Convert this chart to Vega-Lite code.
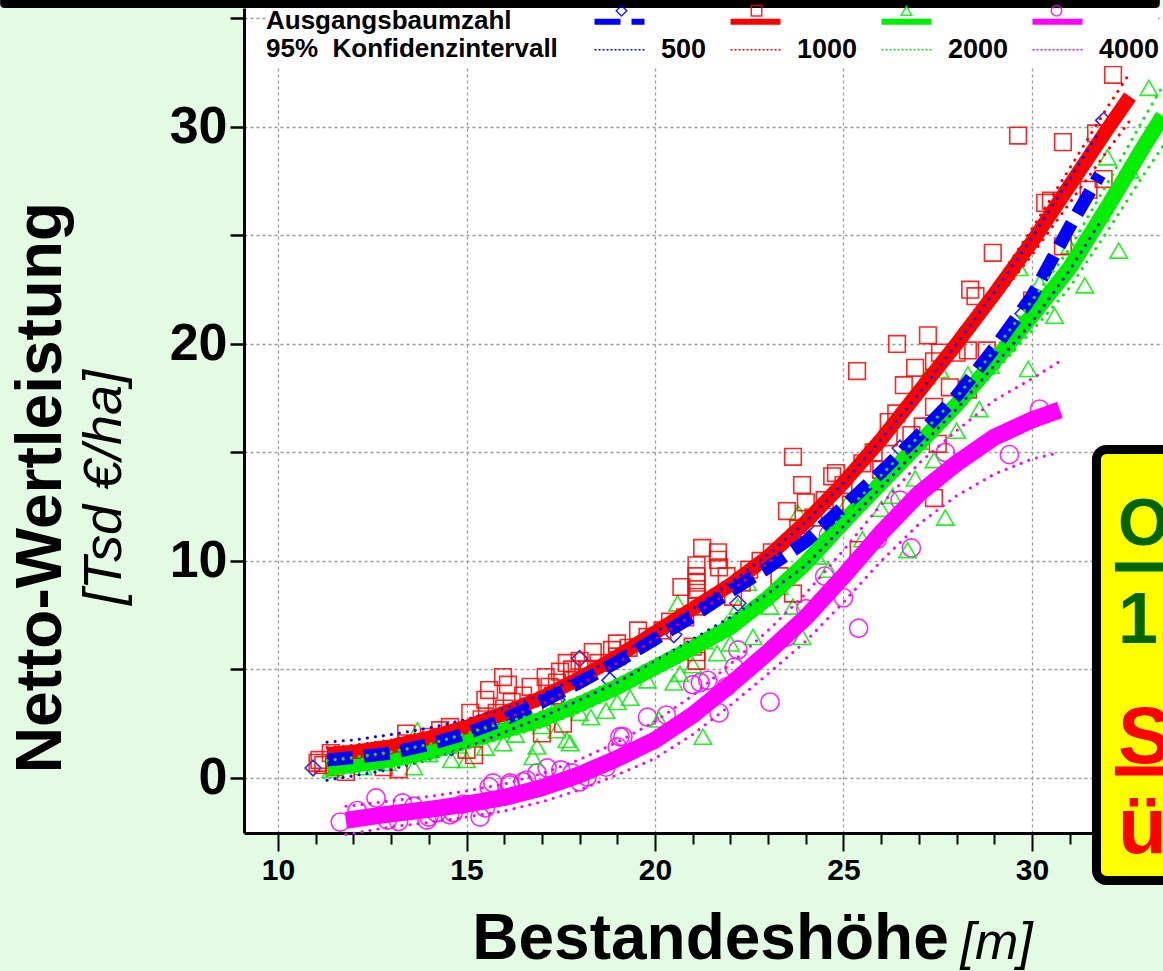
{
  "$schema": "https://vega.github.io/schema/vega-lite/v6.json",
  "width": 919,
  "height": 825,
  "autosize": {"type": "none"},
  "padding": {"left": 244, "top": 8, "right": 0, "bottom": 138},
  "background": "#e3fbe3",
  "config": {
    "font": "Liberation Sans",
    "view": {"fill": "white", "stroke": null},
    "axis": {"labelFont": "Liberation Sans", "titleFont": "Liberation Sans"},
    "legend": {"labelFont": "Liberation Sans", "titleFont": "Liberation Sans", "titleLimit": 600}
  },
  "title": {
    "text": "Netto-Wertleistung",
    "subtitle": "[Tsd €/ha]",
    "orient": "left",
    "anchor": "middle",
    "frame": "group",
    "offset": -132,
    "dx": -67,
    "font": "Liberation Sans",
    "fontSize": 64,
    "fontWeight": "bold",
    "color": "black",
    "subtitleFont": "Liberation Sans",
    "subtitleFontSize": 54,
    "subtitleFontStyle": "italic",
    "subtitleFontWeight": "normal",
    "subtitleColor": "black",
    "subtitlePadding": 4
  },
  "datasets": {
    "pts": [
      {"n": 4000, "h": 11.65, "v": -2.03}, {"n": 4000, "h": 12.1, "v": -1.5}, {"n": 4000, "h": 12.6, "v": -0.92}, {"n": 4000, "h": 12.9, "v": -1.94},
      {"n": 4000, "h": 13.2, "v": -2.0}, {"n": 4000, "h": 13.3, "v": -1.15}, {"n": 4000, "h": 13.6, "v": -1.3}, {"n": 4000, "h": 13.95, "v": -1.94},
      {"n": 4000, "h": 14.0, "v": -1.8}, {"n": 4000, "h": 14.2, "v": -1.6}, {"n": 4000, "h": 14.56, "v": -1.7}, {"n": 4000, "h": 14.65, "v": -1.6},
      {"n": 4000, "h": 14.9, "v": -1.2}, {"n": 4000, "h": 15.36, "v": -1.8}, {"n": 4000, "h": 15.5, "v": -1.38}, {"n": 4000, "h": 15.6, "v": -0.41},
      {"n": 4000, "h": 15.7, "v": -0.23}, {"n": 4000, "h": 16.15, "v": -0.23}, {"n": 4000, "h": 16.15, "v": -0.32}, {"n": 4000, "h": 16.5, "v": -0.18},
      {"n": 4000, "h": 16.6, "v": -0.1}, {"n": 4000, "h": 16.87, "v": 0.23}, {"n": 4000, "h": 17.14, "v": 0.46}, {"n": 4000, "h": 17.5, "v": 0.37},
      {"n": 4000, "h": 17.8, "v": 0.23}, {"n": 4000, "h": 18.0, "v": -0.18}, {"n": 4000, "h": 18.2, "v": 0.05}, {"n": 4000, "h": 18.7, "v": 0.5},
      {"n": 4000, "h": 19.0, "v": 1.43}, {"n": 4000, "h": 19.07, "v": 1.9}, {"n": 4000, "h": 19.15, "v": 1.9}, {"n": 4000, "h": 19.8, "v": 2.8},
      {"n": 4000, "h": 20.3, "v": 2.9}, {"n": 4000, "h": 21.0, "v": 4.3}, {"n": 4000, "h": 21.2, "v": 4.4}, {"n": 4000, "h": 21.4, "v": 4.5},
      {"n": 4000, "h": 21.7, "v": 3.0}, {"n": 4000, "h": 21.9, "v": 4.2}, {"n": 4000, "h": 22.1, "v": 5.1}, {"n": 4000, "h": 22.2, "v": 5.9},
      {"n": 4000, "h": 23.05, "v": 3.5}, {"n": 4000, "h": 23.5, "v": 6.5}, {"n": 4000, "h": 24.0, "v": 7.8}, {"n": 4000, "h": 24.5, "v": 9.3},
      {"n": 4000, "h": 24.6, "v": 11.2}, {"n": 4000, "h": 25.0, "v": 8.3}, {"n": 4000, "h": 25.4, "v": 6.9}, {"n": 4000, "h": 25.9, "v": 11.0},
      {"n": 4000, "h": 26.5, "v": 12.8}, {"n": 4000, "h": 26.8, "v": 10.6}, {"n": 4000, "h": 27.7, "v": 15.0}, {"n": 4000, "h": 27.7, "v": 16.8},
      {"n": 4000, "h": 29.4, "v": 14.9}, {"n": 4000, "h": 30.2, "v": 17.0},
      {"n": 2000, "h": 11.4, "v": 0.37}, {"n": 2000, "h": 11.8, "v": 0.6}, {"n": 2000, "h": 12.25, "v": 0.5}, {"n": 2000, "h": 12.5, "v": 0.9},
      {"n": 2000, "h": 12.9, "v": 0.7}, {"n": 2000, "h": 13.2, "v": 1.0}, {"n": 2000, "h": 13.6, "v": 0.5}, {"n": 2000, "h": 13.7, "v": 2.2},
      {"n": 2000, "h": 14.0, "v": 1.1}, {"n": 2000, "h": 14.6, "v": 0.83}, {"n": 2000, "h": 14.8, "v": 1.5}, {"n": 2000, "h": 15.0, "v": 0.83},
      {"n": 2000, "h": 15.5, "v": 1.4}, {"n": 2000, "h": 15.97, "v": 1.6}, {"n": 2000, "h": 16.3, "v": 2.0}, {"n": 2000, "h": 16.76, "v": 0.97},
      {"n": 2000, "h": 16.87, "v": 1.45}, {"n": 2000, "h": 17.0, "v": 2.4}, {"n": 2000, "h": 17.3, "v": 3.1}, {"n": 2000, "h": 17.4, "v": 2.2},
      {"n": 2000, "h": 17.66, "v": 1.75}, {"n": 2000, "h": 17.75, "v": 1.6}, {"n": 2000, "h": 18.0, "v": 3.0}, {"n": 2000, "h": 18.3, "v": 2.8},
      {"n": 2000, "h": 18.7, "v": 3.1}, {"n": 2000, "h": 19.0, "v": 3.5}, {"n": 2000, "h": 19.34, "v": 3.7}, {"n": 2000, "h": 19.8, "v": 4.5},
      {"n": 2000, "h": 20.1, "v": 2.7}, {"n": 2000, "h": 20.5, "v": 4.4}, {"n": 2000, "h": 20.6, "v": 8.05}, {"n": 2000, "h": 20.66, "v": 4.8},
      {"n": 2000, "h": 21.0, "v": 5.2}, {"n": 2000, "h": 21.27, "v": 1.9}, {"n": 2000, "h": 21.3, "v": 6.3}, {"n": 2000, "h": 21.65, "v": 5.75},
      {"n": 2000, "h": 21.9, "v": 7.1}, {"n": 2000, "h": 22.0, "v": 6.2}, {"n": 2000, "h": 22.2, "v": 7.9}, {"n": 2000, "h": 22.45, "v": 9.0},
      {"n": 2000, "h": 22.6, "v": 6.5}, {"n": 2000, "h": 23.05, "v": 7.9}, {"n": 2000, "h": 23.3, "v": 8.8}, {"n": 2000, "h": 23.66, "v": 7.9},
      {"n": 2000, "h": 23.8, "v": 12.2}, {"n": 2000, "h": 23.9, "v": 6.5}, {"n": 2000, "h": 24.3, "v": 10.2}, {"n": 2000, "h": 24.6, "v": 9.6},
      {"n": 2000, "h": 25.1, "v": 12.7}, {"n": 2000, "h": 25.5, "v": 11.0}, {"n": 2000, "h": 26.0, "v": 12.4}, {"n": 2000, "h": 26.3, "v": 13.0},
      {"n": 2000, "h": 26.7, "v": 10.5}, {"n": 2000, "h": 26.9, "v": 13.8}, {"n": 2000, "h": 27.0, "v": 15.5}, {"n": 2000, "h": 27.2, "v": 18.5},
      {"n": 2000, "h": 27.4, "v": 14.65}, {"n": 2000, "h": 27.56, "v": 18.8}, {"n": 2000, "h": 27.7, "v": 12.0}, {"n": 2000, "h": 28.0, "v": 16.0},
      {"n": 2000, "h": 28.3, "v": 18.6}, {"n": 2000, "h": 28.6, "v": 17.0}, {"n": 2000, "h": 28.9, "v": 19.0}, {"n": 2000, "h": 29.3, "v": 20.0},
      {"n": 2000, "h": 29.66, "v": 23.5}, {"n": 2000, "h": 29.9, "v": 18.85}, {"n": 2000, "h": 30.2, "v": 22.8}, {"n": 2000, "h": 30.6, "v": 21.3},
      {"n": 2000, "h": 31.0, "v": 24.5}, {"n": 2000, "h": 31.4, "v": 22.7}, {"n": 2000, "h": 31.8, "v": 26.0}, {"n": 2000, "h": 32.0, "v": 28.6},
      {"n": 2000, "h": 32.3, "v": 24.3}, {"n": 2000, "h": 32.6, "v": 28.0}, {"n": 2000, "h": 33.1, "v": 31.8},
      {"n": 500, "h": 10.93, "v": 0.46}, {"n": 500, "h": 12.7, "v": 0.7}, {"n": 500, "h": 14.6, "v": 1.4}, {"n": 500, "h": 16.0, "v": 2.4},
      {"n": 500, "h": 17.4, "v": 3.6}, {"n": 500, "h": 18.0, "v": 5.5}, {"n": 500, "h": 18.8, "v": 4.5}, {"n": 500, "h": 20.5, "v": 6.6},
      {"n": 500, "h": 22.2, "v": 8.05}, {"n": 500, "h": 24.0, "v": 11.6}, {"n": 500, "h": 26.5, "v": 15.2}, {"n": 500, "h": 28.3, "v": 20.7},
      {"n": 500, "h": 29.76, "v": 21.4}, {"n": 500, "h": 31.9, "v": 30.3},
      {"n": 1000, "h": 11.1, "v": 0.83}, {"n": 1000, "h": 11.05, "v": 0.7}, {"n": 1000, "h": 11.4, "v": 1.15}, {"n": 1000, "h": 11.2, "v": 0.6},
      {"n": 1000, "h": 11.5, "v": 0.5}, {"n": 1000, "h": 11.8, "v": 0.28}, {"n": 1000, "h": 12.0, "v": 0.8}, {"n": 1000, "h": 12.3, "v": 1.0},
      {"n": 1000, "h": 12.6, "v": 0.9}, {"n": 1000, "h": 12.8, "v": 0.5}, {"n": 1000, "h": 13.0, "v": 1.2}, {"n": 1000, "h": 13.2, "v": 0.4},
      {"n": 1000, "h": 13.4, "v": 2.05}, {"n": 1000, "h": 13.4, "v": 1.6}, {"n": 1000, "h": 13.8, "v": 1.4}, {"n": 1000, "h": 14.0, "v": 1.9},
      {"n": 1000, "h": 14.3, "v": 2.2}, {"n": 1000, "h": 14.56, "v": 2.35}, {"n": 1000, "h": 14.8, "v": 2.0}, {"n": 1000, "h": 15.0, "v": 1.3},
      {"n": 1000, "h": 15.1, "v": 3.0}, {"n": 1000, "h": 15.2, "v": 1.05}, {"n": 1000, "h": 15.3, "v": 2.3}, {"n": 1000, "h": 15.4, "v": 2.7},
      {"n": 1000, "h": 15.5, "v": 3.6}, {"n": 1000, "h": 15.6, "v": 4.05}, {"n": 1000, "h": 15.8, "v": 3.0}, {"n": 1000, "h": 15.97, "v": 4.65},
      {"n": 1000, "h": 16.0, "v": 3.2}, {"n": 1000, "h": 16.1, "v": 4.3}, {"n": 1000, "h": 16.2, "v": 3.5}, {"n": 1000, "h": 16.4, "v": 3.0},
      {"n": 1000, "h": 16.5, "v": 3.8}, {"n": 1000, "h": 16.7, "v": 4.2}, {"n": 1000, "h": 16.8, "v": 3.3}, {"n": 1000, "h": 17.0, "v": 2.05},
      {"n": 1000, "h": 17.1, "v": 4.65}, {"n": 1000, "h": 17.2, "v": 4.2}, {"n": 1000, "h": 17.3, "v": 3.8}, {"n": 1000, "h": 17.4, "v": 4.4},
      {"n": 1000, "h": 17.48, "v": 4.9}, {"n": 1000, "h": 17.56, "v": 2.5}, {"n": 1000, "h": 17.66, "v": 5.3}, {"n": 1000, "h": 17.8, "v": 5.0},
      {"n": 1000, "h": 17.8, "v": 4.5}, {"n": 1000, "h": 18.0, "v": 5.4}, {"n": 1000, "h": 18.2, "v": 5.0}, {"n": 1000, "h": 18.35, "v": 5.8},
      {"n": 1000, "h": 18.5, "v": 5.3}, {"n": 1000, "h": 18.86, "v": 5.9}, {"n": 1000, "h": 18.99, "v": 6.2}, {"n": 1000, "h": 19.0, "v": 5.6},
      {"n": 1000, "h": 19.3, "v": 6.0}, {"n": 1000, "h": 19.55, "v": 6.8}, {"n": 1000, "h": 19.8, "v": 6.5}, {"n": 1000, "h": 20.2, "v": 6.8},
      {"n": 1000, "h": 20.4, "v": 7.2}, {"n": 1000, "h": 20.7, "v": 8.8}, {"n": 1000, "h": 20.8, "v": 7.4}, {"n": 1000, "h": 21.0, "v": 6.05},
      {"n": 1000, "h": 21.1, "v": 5.4}, {"n": 1000, "h": 21.1, "v": 5.8}, {"n": 1000, "h": 21.1, "v": 7.9}, {"n": 1000, "h": 21.1, "v": 8.35},
      {"n": 1000, "h": 21.1, "v": 8.7}, {"n": 1000, "h": 21.1, "v": 9.0}, {"n": 1000, "h": 21.1, "v": 9.3}, {"n": 1000, "h": 21.1, "v": 9.8},
      {"n": 1000, "h": 21.25, "v": 10.6}, {"n": 1000, "h": 21.67, "v": 10.4}, {"n": 1000, "h": 21.67, "v": 10.05}, {"n": 1000, "h": 21.7, "v": 9.7},
      {"n": 1000, "h": 21.9, "v": 9.3}, {"n": 1000, "h": 22.07, "v": 8.35}, {"n": 1000, "h": 22.3, "v": 9.0}, {"n": 1000, "h": 22.5, "v": 9.6},
      {"n": 1000, "h": 22.8, "v": 10.0}, {"n": 1000, "h": 23.1, "v": 10.4}, {"n": 1000, "h": 23.3, "v": 9.3}, {"n": 1000, "h": 23.5, "v": 12.3},
      {"n": 1000, "h": 23.66, "v": 8.5}, {"n": 1000, "h": 23.66, "v": 14.8}, {"n": 1000, "h": 23.8, "v": 11.5}, {"n": 1000, "h": 23.9, "v": 13.5},
      {"n": 1000, "h": 24.0, "v": 12.7}, {"n": 1000, "h": 24.2, "v": 12.0}, {"n": 1000, "h": 24.5, "v": 12.8}, {"n": 1000, "h": 24.7, "v": 13.9},
      {"n": 1000, "h": 24.8, "v": 14.05}, {"n": 1000, "h": 25.0, "v": 13.5}, {"n": 1000, "h": 25.2, "v": 12.6}, {"n": 1000, "h": 25.36, "v": 18.75},
      {"n": 1000, "h": 25.4, "v": 10.5}, {"n": 1000, "h": 25.5, "v": 14.5}, {"n": 1000, "h": 25.8, "v": 15.0}, {"n": 1000, "h": 26.0, "v": 14.2},
      {"n": 1000, "h": 26.2, "v": 16.4}, {"n": 1000, "h": 26.2, "v": 15.7}, {"n": 1000, "h": 26.4, "v": 16.8}, {"n": 1000, "h": 26.42, "v": 20.0},
      {"n": 1000, "h": 26.6, "v": 18.1}, {"n": 1000, "h": 26.8, "v": 15.8}, {"n": 1000, "h": 26.9, "v": 18.9}, {"n": 1000, "h": 27.1, "v": 16.2},
      {"n": 1000, "h": 27.24, "v": 20.4}, {"n": 1000, "h": 27.4, "v": 19.2}, {"n": 1000, "h": 27.4, "v": 17.1}, {"n": 1000, "h": 27.4, "v": 12.9},
      {"n": 1000, "h": 27.5, "v": 15.4}, {"n": 1000, "h": 27.56, "v": 19.6}, {"n": 1000, "h": 27.82, "v": 18.0}, {"n": 1000, "h": 28.0, "v": 19.6},
      {"n": 1000, "h": 28.3, "v": 17.9}, {"n": 1000, "h": 28.3, "v": 19.7}, {"n": 1000, "h": 28.36, "v": 22.5}, {"n": 1000, "h": 28.5, "v": 22.2},
      {"n": 1000, "h": 28.8, "v": 19.7}, {"n": 1000, "h": 28.96, "v": 24.2}, {"n": 1000, "h": 29.63, "v": 29.6}, {"n": 1000, "h": 30.0, "v": 22.0},
      {"n": 1000, "h": 30.35, "v": 26.5}, {"n": 1000, "h": 30.5, "v": 26.6}, {"n": 1000, "h": 30.82, "v": 24.5}, {"n": 1000, "h": 30.82, "v": 29.3},
      {"n": 1000, "h": 31.5, "v": 27.1}, {"n": 1000, "h": 31.7, "v": 29.7}, {"n": 1000, "h": 31.9, "v": 27.6}, {"n": 1000, "h": 32.15, "v": 32.4}
    ],
    "fit": [
      {"n": 4000, "h": 11.8, "v": -1.95}, {"n": 4000, "h": 12, "v": -1.9}, {"n": 4000, "h": 13, "v": -1.65}, {"n": 4000, "h": 14, "v": -1.45},
      {"n": 4000, "h": 15, "v": -1.2}, {"n": 4000, "h": 16, "v": -0.9}, {"n": 4000, "h": 17, "v": -0.45}, {"n": 4000, "h": 18, "v": 0.15},
      {"n": 4000, "h": 19, "v": 0.9}, {"n": 4000, "h": 20, "v": 1.75}, {"n": 4000, "h": 21, "v": 2.9}, {"n": 4000, "h": 22, "v": 4.3},
      {"n": 4000, "h": 23, "v": 5.8}, {"n": 4000, "h": 24, "v": 7.4}, {"n": 4000, "h": 25, "v": 9.3}, {"n": 4000, "h": 26, "v": 11.3},
      {"n": 4000, "h": 27, "v": 13.1}, {"n": 4000, "h": 28, "v": 14.5}, {"n": 4000, "h": 29, "v": 15.7}, {"n": 4000, "h": 30, "v": 16.5},
      {"n": 4000, "h": 30.74, "v": 16.96},
      {"n": 2000, "h": 11.3, "v": 0.45}, {"n": 2000, "h": 12, "v": 0.6}, {"n": 2000, "h": 13, "v": 0.85}, {"n": 2000, "h": 14, "v": 1.2},
      {"n": 2000, "h": 15, "v": 1.7}, {"n": 2000, "h": 16, "v": 2.2}, {"n": 2000, "h": 17, "v": 2.7}, {"n": 2000, "h": 18, "v": 3.4},
      {"n": 2000, "h": 19, "v": 4.2}, {"n": 2000, "h": 20, "v": 5.1}, {"n": 2000, "h": 21, "v": 6.0}, {"n": 2000, "h": 22, "v": 6.95},
      {"n": 2000, "h": 23, "v": 8.3}, {"n": 2000, "h": 24, "v": 9.9}, {"n": 2000, "h": 25, "v": 11.8}, {"n": 2000, "h": 26, "v": 13.6},
      {"n": 2000, "h": 27, "v": 15.4}, {"n": 2000, "h": 28, "v": 17.2}, {"n": 2000, "h": 29, "v": 19.2}, {"n": 2000, "h": 30, "v": 21.3},
      {"n": 2000, "h": 31, "v": 23.5}, {"n": 2000, "h": 32, "v": 26.3}, {"n": 2000, "h": 33, "v": 29.2}, {"n": 2000, "h": 33.47, "v": 30.5},
      {"n": 1000, "h": 11.3, "v": 1.1}, {"n": 1000, "h": 12, "v": 1.2}, {"n": 1000, "h": 13, "v": 1.45}, {"n": 1000, "h": 14, "v": 1.85},
      {"n": 1000, "h": 15, "v": 2.35}, {"n": 1000, "h": 16, "v": 3.0}, {"n": 1000, "h": 17, "v": 3.7}, {"n": 1000, "h": 18, "v": 4.6},
      {"n": 1000, "h": 19, "v": 5.6}, {"n": 1000, "h": 20, "v": 6.7}, {"n": 1000, "h": 21, "v": 7.8}, {"n": 1000, "h": 22, "v": 8.9},
      {"n": 1000, "h": 23, "v": 10.2}, {"n": 1000, "h": 24, "v": 11.8}, {"n": 1000, "h": 25, "v": 13.6}, {"n": 1000, "h": 26, "v": 15.6},
      {"n": 1000, "h": 27, "v": 17.8}, {"n": 1000, "h": 28, "v": 20.0}, {"n": 1000, "h": 29, "v": 22.3}, {"n": 1000, "h": 30, "v": 24.7},
      {"n": 1000, "h": 31, "v": 27.3}, {"n": 1000, "h": 32, "v": 29.9}, {"n": 1000, "h": 32.6, "v": 31.4},
      {"n": 500, "h": 11.3, "v": 0.83}, {"n": 500, "h": 12, "v": 0.95}, {"n": 500, "h": 13, "v": 1.15}, {"n": 500, "h": 14, "v": 1.55},
      {"n": 500, "h": 15, "v": 2.05}, {"n": 500, "h": 16, "v": 2.7}, {"n": 500, "h": 17, "v": 3.5}, {"n": 500, "h": 18, "v": 4.4},
      {"n": 500, "h": 19, "v": 5.35}, {"n": 500, "h": 20, "v": 6.4}, {"n": 500, "h": 21, "v": 7.45}, {"n": 500, "h": 22, "v": 8.6},
      {"n": 500, "h": 23, "v": 9.7}, {"n": 500, "h": 24, "v": 10.9}, {"n": 500, "h": 25, "v": 12.5}, {"n": 500, "h": 26, "v": 14.1},
      {"n": 500, "h": 27, "v": 15.8}, {"n": 500, "h": 28, "v": 17.6}, {"n": 500, "h": 29, "v": 19.8}, {"n": 500, "h": 30, "v": 22.2},
      {"n": 500, "h": 31, "v": 25.4}, {"n": 500, "h": 31.8, "v": 27.8}
    ],
    "ci": [
      {"n": 500, "h": 11.3, "lo": -0.1, "hi": 1.65}, {"n": 500, "h": 12, "lo": 0.1, "hi": 1.75}, {"n": 500, "h": 13, "lo": 0.4, "hi": 2.0},
      {"n": 500, "h": 14, "lo": 0.85, "hi": 2.3}, {"n": 500, "h": 15, "lo": 1.4, "hi": 2.7}, {"n": 500, "h": 16, "lo": 2.1, "hi": 3.2},
      {"n": 500, "h": 17, "lo": 2.8, "hi": 3.85}, {"n": 500, "h": 18, "lo": 3.6, "hi": 4.7}, {"n": 500, "h": 19, "lo": 4.4, "hi": 5.6},
      {"n": 500, "h": 20, "lo": 5.4, "hi": 6.7}, {"n": 500, "h": 21, "lo": 6.4, "hi": 7.8}, {"n": 500, "h": 22, "lo": 7.4, "hi": 9.0},
      {"n": 500, "h": 23, "lo": 8.5, "hi": 10.3}, {"n": 500, "h": 24, "lo": 9.8, "hi": 11.8}, {"n": 500, "h": 25, "lo": 11.6, "hi": 13.6},
      {"n": 500, "h": 26, "lo": 13.4, "hi": 15.6}, {"n": 500, "h": 27, "lo": 15.2, "hi": 17.7}, {"n": 500, "h": 28, "lo": 17.0, "hi": 20.0},
      {"n": 500, "h": 29, "lo": 19.0, "hi": 22.4}, {"n": 500, "h": 30, "lo": 21.0, "hi": 24.9}, {"n": 500, "h": 31, "lo": 23.4, "hi": 27.6},
      {"n": 500, "h": 31.8, "lo": 25.6, "hi": 29.8},
      {"n": 1000, "h": 11.3, "lo": 0.8, "hi": 1.4}, {"n": 1000, "h": 12, "lo": 0.9, "hi": 1.5}, {"n": 1000, "h": 13, "lo": 1.15, "hi": 1.75},
      {"n": 1000, "h": 14, "lo": 1.55, "hi": 2.15}, {"n": 1000, "h": 15, "lo": 2.05, "hi": 2.65}, {"n": 1000, "h": 16, "lo": 2.7, "hi": 3.3},
      {"n": 1000, "h": 17, "lo": 3.4, "hi": 4.0}, {"n": 1000, "h": 18, "lo": 4.3, "hi": 4.9}, {"n": 1000, "h": 19, "lo": 5.3, "hi": 5.9},
      {"n": 1000, "h": 20, "lo": 6.4, "hi": 7.0}, {"n": 1000, "h": 21, "lo": 7.5, "hi": 8.1}, {"n": 1000, "h": 22, "lo": 8.6, "hi": 9.2},
      {"n": 1000, "h": 23, "lo": 9.9, "hi": 10.5}, {"n": 1000, "h": 24, "lo": 11.5, "hi": 12.1}, {"n": 1000, "h": 25, "lo": 13.3, "hi": 13.9},
      {"n": 1000, "h": 26, "lo": 15.3, "hi": 15.9}, {"n": 1000, "h": 27, "lo": 17.5, "hi": 18.1}, {"n": 1000, "h": 28, "lo": 19.7, "hi": 20.3},
      {"n": 1000, "h": 29, "lo": 21.9, "hi": 22.7}, {"n": 1000, "h": 30, "lo": 24.1, "hi": 25.3}, {"n": 1000, "h": 31, "lo": 26.5, "hi": 28.1},
      {"n": 1000, "h": 32, "lo": 28.9, "hi": 30.9}, {"n": 1000, "h": 32.6, "lo": 30.3, "hi": 32.5},
      {"n": 2000, "h": 11.3, "lo": 0.1, "hi": 0.8}, {"n": 2000, "h": 12, "lo": 0.25, "hi": 0.95}, {"n": 2000, "h": 13, "lo": 0.5, "hi": 1.2},
      {"n": 2000, "h": 14, "lo": 0.85, "hi": 1.55}, {"n": 2000, "h": 15, "lo": 1.35, "hi": 2.05}, {"n": 2000, "h": 16, "lo": 1.85, "hi": 2.55},
      {"n": 2000, "h": 17, "lo": 2.35, "hi": 3.05}, {"n": 2000, "h": 18, "lo": 3.05, "hi": 3.75}, {"n": 2000, "h": 19, "lo": 3.85, "hi": 4.55},
      {"n": 2000, "h": 20, "lo": 4.75, "hi": 5.45}, {"n": 2000, "h": 21, "lo": 5.65, "hi": 6.35}, {"n": 2000, "h": 22, "lo": 6.6, "hi": 7.3},
      {"n": 2000, "h": 23, "lo": 7.95, "hi": 8.65}, {"n": 2000, "h": 24, "lo": 9.55, "hi": 10.25}, {"n": 2000, "h": 25, "lo": 11.45, "hi": 12.15},
      {"n": 2000, "h": 26, "lo": 13.25, "hi": 13.95}, {"n": 2000, "h": 27, "lo": 15.05, "hi": 15.75}, {"n": 2000, "h": 28, "lo": 16.85, "hi": 17.55},
      {"n": 2000, "h": 29, "lo": 18.7, "hi": 19.7}, {"n": 2000, "h": 30, "lo": 20.6, "hi": 22.0}, {"n": 2000, "h": 31, "lo": 22.6, "hi": 24.4},
      {"n": 2000, "h": 32, "lo": 25.2, "hi": 27.4}, {"n": 2000, "h": 33, "lo": 27.9, "hi": 30.5}, {"n": 2000, "h": 33.47, "lo": 29.1, "hi": 31.9},
      {"n": 4000, "h": 11.8, "lo": -2.6, "hi": -1.3}, {"n": 4000, "h": 12, "lo": -2.55, "hi": -1.27}, {"n": 4000, "h": 13, "lo": -2.25, "hi": -1.05},
      {"n": 4000, "h": 14, "lo": -2.05, "hi": -0.85}, {"n": 4000, "h": 15, "lo": -1.8, "hi": -0.6}, {"n": 4000, "h": 16, "lo": -1.52, "hi": -0.28},
      {"n": 4000, "h": 17, "lo": -1.1, "hi": 0.2}, {"n": 4000, "h": 18, "lo": -0.55, "hi": 0.85}, {"n": 4000, "h": 19, "lo": 0.15, "hi": 1.65},
      {"n": 4000, "h": 20, "lo": 0.9, "hi": 2.6}, {"n": 4000, "h": 21, "lo": 2.0, "hi": 3.8}, {"n": 4000, "h": 22, "lo": 3.35, "hi": 5.25},
      {"n": 4000, "h": 23, "lo": 4.8, "hi": 6.8}, {"n": 4000, "h": 24, "lo": 6.3, "hi": 8.5}, {"n": 4000, "h": 25, "lo": 8.1, "hi": 10.5},
      {"n": 4000, "h": 26, "lo": 10.0, "hi": 12.6}, {"n": 4000, "h": 27, "lo": 11.7, "hi": 14.5}, {"n": 4000, "h": 28, "lo": 13.0, "hi": 16.0},
      {"n": 4000, "h": 29, "lo": 14.0, "hi": 17.4}, {"n": 4000, "h": 30, "lo": 14.7, "hi": 18.4}, {"n": 4000, "h": 30.74, "lo": 15.0, "hi": 19.2}
    ]
  },
  "layer": [
    {
      "data": {"values": [{}]},
      "mark": {"type": "rect", "color": "black", "cornerRadiusBottomLeft": 8, "cornerRadiusBottomRight": 8},
      "encoding": {
        "x": {"datum": 2.63, "type": "quantitative", "axis": null},
        "x2": {"datum": 33.39},
        "y": {"datum": 35.86, "type": "quantitative"},
        "y2": {"datum": 35.48}
      }
    },
    {
      "data": {"name": "pts"},
      "mark": {"type": "point", "filled": false, "strokeWidth": 1.6, "opacity": 0.85},
      "encoding": {
        "x": {
          "field": "h", "type": "quantitative",
          "scale": {"domain": [9.098, 33.475], "nice": false, "zero": false},
          "axis": {
            "orient": "bottom",
            "values": [10, 11, 12, 13, 14, 15, 16, 17, 18, 19, 20, 21, 22, 23, 24, 25, 26, 27, 28, 29, 30, 31, 32, 33],
            "labelExpr": "datum.value % 5 === 0 ? datum.label : ''",
            "labelOverlap": false, "labelFlush": false,
            "labelFontSize": 30, "labelFontWeight": "bold", "labelColor": "black", "labelPadding": 4,
            "tickColor": "black", "tickWidth": 2,
            "tickSize": {"condition": {"test": "datum.value % 5 === 0", "value": 18}, "value": 11},
            "domainColor": "black", "domainWidth": 3,
            "grid": true, "gridColor": "#9a9a9a", "gridDash": [3, 3], "gridWidth": 1.3,
            "gridOpacity": {"condition": {"test": "datum.value % 5 === 0", "value": 1}, "value": 0},
            "title": "Bestandeshöhe", "titleFontSize": 64, "titleFontWeight": "bold", "titleColor": "black",
            "titleX": 466, "titleY": 125, "titleAlign": "center", "titleBaseline": "alphabetic",
            "zindex": 0
          }
        },
        "y": {
          "field": "v", "type": "quantitative",
          "scale": {"domain": [-2.535, 35.48], "nice": false, "zero": false},
          "axis": {
            "values": [0, 5, 10, 15, 20, 25, 30, 35],
            "labelExpr": "datum.value % 10 === 0 ? datum.label : ''",
            "labelOverlap": false, "labelFlush": false,
            "labelFontSize": 52, "labelFontWeight": "bold", "labelColor": "black", "labelPadding": 3,
            "tickSize": 14, "tickWidth": 2.5, "tickColor": "black",
            "domainColor": "black", "domainWidth": 3,
            "grid": true, "gridColor": "#9a9a9a", "gridDash": [3, 3], "gridWidth": 1.3,
            "title": null, "zindex": 0
          }
        },
        "color": {
          "field": "n", "type": "nominal",
          "scale": {"domain": [500, 1000, 2000, 4000], "range": ["#0000ff", "#ff0000", "#00ee00", "#ff00ff"]},
          "legend": {
            "title": null, "orient": "none", "legendX": 364, "legendY": -11,
            "direction": "horizontal", "columns": 4, "padding": 0,
            "labelFontSize": 27, "labelFontWeight": "bold", "labelOpacity": 0, "labelOffset": 26,
            "columnPadding": 36, "symbolSize": 110, "symbolStrokeWidth": 1.5, "zindex": 3
          }
        },
        "shape": {
          "field": "n", "type": "nominal",
          "scale": {"domain": [500, 1000, 2000, 4000], "range": ["diamond", "square", "triangle-up", "circle"]},
          "legend": {
            "title": null, "orient": "none", "legendX": 364, "legendY": -11,
            "direction": "horizontal", "columns": 4, "padding": 0,
            "labelFontSize": 27, "labelFontWeight": "bold", "labelOpacity": 0, "labelOffset": 26,
            "columnPadding": 36, "symbolSize": 110, "symbolStrokeWidth": 1.5, "zindex": 3
          }
        },
        "size": {
          "field": "n", "type": "ordinal",
          "scale": {"range": [250, 330, 400, 330]},
          "legend": null
        }
      }
    },
    {
      "data": {"name": "fit"},
      "mark": {"type": "line", "strokeCap": "butt", "strokeJoin": "round"},
      "encoding": {
        "x": {
          "field": "h", "type": "quantitative",
          "axis": {
            "orient": "bottom", "domain": false, "ticks": false, "labels": false, "grid": false,
            "title": "[m]", "titleFontSize": 52, "titleFontStyle": "italic", "titleFontWeight": "normal", "titleColor": "black",
            "titleX": 716, "titleY": 125, "titleAlign": "left", "titleBaseline": "alphabetic", "zindex": 0
          }
        },
        "y": {"field": "v", "type": "quantitative"},
        "color": {
          "field": "n", "type": "nominal",
          "scale": {"domain": [500, 1000, 2000, 4000], "range": ["#0000ff", "#ff0000", "#00ee00", "#ff00ff"]},
          "legend": {
            "title": "Ausgangsbaumzahl", "orient": "none", "legendX": 22, "legendY": 0,
            "direction": "horizontal", "columns": 4, "padding": 0,
            "titleOrient": "left", "titleAnchor": "middle", "titleBaseline": "middle", "titlePadding": 94,
            "titleFontSize": 26, "titleFontWeight": "bold", "titleColor": "black",
            "labelFontSize": 27, "labelFontWeight": "bold", "labelOpacity": 0, "labelOffset": 26,
            "columnPadding": 13, "symbolType": "M-2.5,0H2.5", "symbolSize": 400, "symbolStrokeWidth": 6,
            "fillColor": "white", "zindex": 2
          }
        },
        "strokeDash": {
          "field": "n", "type": "nominal",
          "scale": {"domain": [500, 1000, 2000, 4000], "range": [[26, 11], [1, 0], [1, 0], [1, 0]]},
          "legend": {
            "title": "Ausgangsbaumzahl", "orient": "none", "legendX": 22, "legendY": 0,
            "direction": "horizontal", "columns": 4, "padding": 0,
            "titleOrient": "left", "titleAnchor": "middle", "titleBaseline": "middle", "titlePadding": 94,
            "titleFontSize": 26, "titleFontWeight": "bold", "titleColor": "black",
            "labelFontSize": 27, "labelFontWeight": "bold", "labelOpacity": 0, "labelOffset": 26,
            "columnPadding": 13, "symbolType": "M-2.5,0H2.5", "symbolSize": 400, "symbolStrokeWidth": 6,
            "fillColor": "white", "zindex": 2
          }
        },
        "strokeWidth": {
          "field": "n", "type": "ordinal",
          "scale": {"domain": [500, 1000, 2000, 4000], "range": [13, 17, 17, 17]},
          "legend": null
        }
      }
    },
    {
      "data": {"name": "ci"},
      "transform": [{"fold": ["lo", "hi"], "as": ["b", "v"]}],
      "mark": {"type": "line", "strokeWidth": 3, "strokeCap": "round", "strokeDash": [0.1, 8]},
      "encoding": {
        "x": {"field": "h", "type": "quantitative", "axis": null},
        "y": {"field": "v", "type": "quantitative"},
        "detail": {"field": "b"},
        "stroke": {
          "field": "n", "type": "ordinal",
          "scale": {"range": ["#0000ff", "#ff0000", "#00ee00", "#ff00ff"]},
          "legend": {
            "title": "95%\u00a0 Konfidenzintervall", "orient": "none", "legendX": 19, "legendY": 25,
            "direction": "horizontal", "columns": 4, "padding": 3,
            "titleOrient": "left", "titleAnchor": "middle", "titleBaseline": "middle", "titlePadding": 48,
            "titleFontSize": 26, "titleFontWeight": "bold", "titleColor": "black",
            "labelFontSize": 27, "labelFontWeight": "bold", "labelColor": "black", "labelOffset": 28,
            "columnPadding": 20, "symbolType": "M-2.5,0H2.5", "symbolSize": 400, "symbolStrokeWidth": 1.5, "symbolDash": [2, 2],
            "fillColor": "white", "zindex": 1
          }
        }
      }
    },
    {
      "data": {"values": [{}]},
      "mark": {"type": "rect", "fill": "#ffff00", "stroke": "black", "strokeWidth": 9, "cornerRadius": 10},
      "encoding": {
        "x": {"datum": 31.71, "type": "quantitative", "axis": null},
        "x2": {"datum": 33.8},
        "y": {"datum": 15.14, "type": "quantitative"},
        "y2": {"datum": -4.72}
      }
    },
    {
      "data": {"values": [{}]},
      "mark": {"type": "text", "text": "O", "align": "left", "baseline": "alphabetic", "font": "Liberation Sans", "fontSize": 66, "fontWeight": "bold", "color": "#006400"},
      "encoding": {"x": {"datum": 32.28, "type": "quantitative", "axis": null}, "y": {"datum": 10.74, "type": "quantitative"}}
    },
    {
      "data": {"values": [{}]},
      "mark": {"type": "rule", "color": "#006400", "strokeWidth": 9},
      "encoding": {"x": {"datum": 32.2, "type": "quantitative", "axis": null}, "x2": {"datum": 33.8}, "y": {"datum": 9.72, "type": "quantitative"}}
    },
    {
      "data": {"values": [{}]},
      "mark": {"type": "text", "text": "1.", "align": "left", "baseline": "alphabetic", "font": "Liberation Sans", "fontSize": 72, "fontWeight": "bold", "color": "#006400"},
      "encoding": {"x": {"datum": 32.28, "type": "quantitative", "axis": null}, "y": {"datum": 6.2, "type": "quantitative"}}
    },
    {
      "data": {"values": [{}]},
      "mark": {"type": "text", "text": "S", "align": "left", "baseline": "alphabetic", "font": "Liberation Sans", "fontSize": 80, "fontWeight": "bold", "color": "#ff0000"},
      "encoding": {"x": {"datum": 32.28, "type": "quantitative", "axis": null}, "y": {"datum": 0.69, "type": "quantitative"}}
    },
    {
      "data": {"values": [{}]},
      "mark": {"type": "rule", "color": "#ff0000", "strokeWidth": 9},
      "encoding": {"x": {"datum": 32.2, "type": "quantitative", "axis": null}, "x2": {"datum": 33.8}, "y": {"datum": 0.32, "type": "quantitative"}}
    },
    {
      "data": {"values": [{}]},
      "mark": {"type": "text", "text": "ü", "align": "left", "baseline": "alphabetic", "font": "Liberation Sans", "fontSize": 80, "fontWeight": "bold", "color": "#ff0000"},
      "encoding": {"x": {"datum": 32.28, "type": "quantitative", "axis": null}, "y": {"datum": -3.46, "type": "quantitative"}}
    }
  ],
  "resolve": {
    "axis": {"x": "independent"},
    "legend": {"color": "independent", "strokeDash": "independent", "shape": "independent"}
  }
}
